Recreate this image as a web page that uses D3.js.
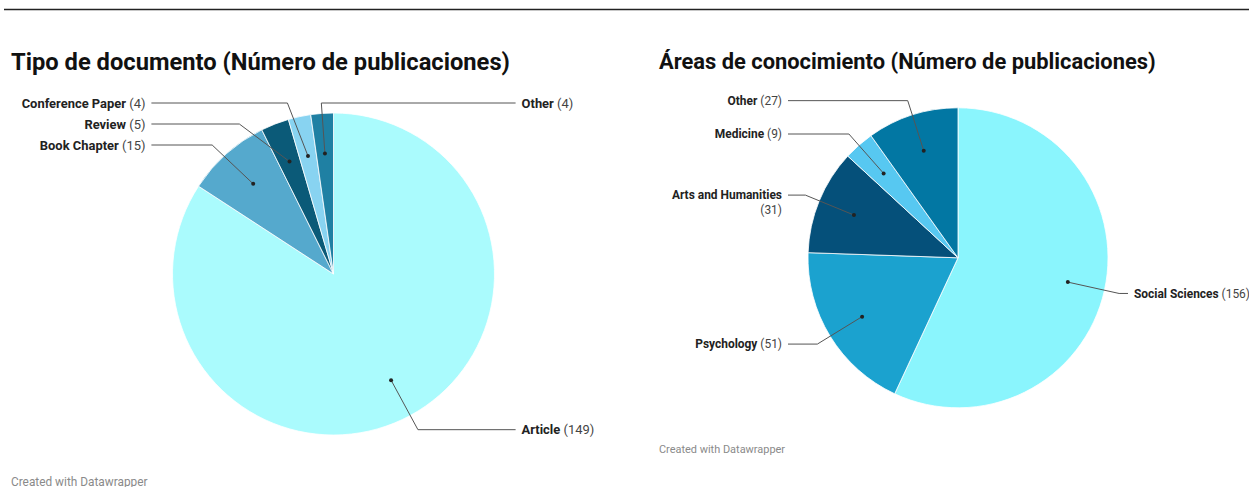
<!DOCTYPE html>
<html>
<head>
<meta charset="utf-8">
<script src="https://cdn.jsdelivr.net/npm/d3@7"></script>
<style>
  html, body { margin: 0; padding: 0; background: #fff; }
  svg { display: block; font-family: Roboto, "Noto Sans", sans-serif; }
</style>
</head>
<body>
<svg id="chart" width="1249" height="487"></svg>
<script>
// ---- data ----
const leftTitle = "Tipo de documento (Número de publicaciones)";
const leftCategories = ["Article", "Book Chapter", "Review", "Conference Paper", "Other"];
const leftValues = [149, 15, 5, 4, 4];
const leftColors = ["#aafbfd", "#55a9cd", "#0b5a78", "#88d3f1", "#1f80a3"];

const rightTitle = "Áreas de conocimiento (Número de publicaciones)";
const rightCategories = ["Social Sciences", "Psychology", "Arts and Humanities", "Medicine", "Other"];
const rightValues = [156, 51, 31, 9, 27];
const rightColors = ["#8af5fd", "#1ba2cf", "#05507a", "#57c8f1", "#0277a3"];

const footerText = "Created with Datawrapper";

// ---- layout ----
const svg = d3.select("#chart");
const W = 1249;

svg.append("line")
  .attr("x1", 4).attr("x2", W).attr("y1", 9.5).attr("y2", 9.5)
  .attr("stroke", "#222").attr("stroke-width", 1.5);

const charts = [
  { title: leftTitle, cats: leftCategories, vals: leftValues, colors: leftColors,
    x0: 11, x1: 624, cx: 333.5, cy: 274, r: 161, footerY: 485.5, k: 1.078, titleY: 70 },
  { title: rightTitle, cats: rightCategories, vals: rightValues, colors: rightColors,
    x0: 659, x1: 1249, cx: 958, cy: 257.8, r: 150, footerY: 453, k: 0.995, titleY: 69 }
];

charts.forEach(c => {
  const g = svg.append("g");
  g.append("text")
    .attr("x", c.x0).attr("y", c.titleY)
    .attr("font-size", 22 * c.k).attr("font-weight", 700).attr("fill", "#111")
    .text(c.title);

  g.append("text")
    .attr("x", c.x0).attr("y", c.footerY)
    .attr("font-size", 11 * c.k).attr("fill", "#8a8a8a")
    .text(footerText);

  const data = c.cats.map((name, i) => ({ name, value: c.vals[i], color: c.colors[i] }));
  const pie = d3.pie().sort(null).value(d => d.value);
  const arcs = pie(data);
  const arc = d3.arc().innerRadius(0).outerRadius(c.r);
  const dotArc = d3.arc().innerRadius(c.r * 0.75).outerRadius(c.r * 0.75);
  const R = c.r * 1.1;

  const pg = g.append("g").attr("transform", `translate(${c.cx},${c.cy})`);
  pg.selectAll("path").data(arcs).join("path")
    .attr("d", arc)
    .attr("fill", d => d.data.color)
    .attr("stroke", "#fff").attr("stroke-width", 0.8);

  // label placement
  const labels = arcs.map(a => {
    const mid = (a.startAngle + a.endAngle) / 2;
    let side = mid < Math.PI ? 1 : -1;
    // slices right at the top send their label to the right
    if (Math.abs(Math.sin(mid)) < 0.1 && Math.cos(mid) > 0) side = 1;
    let y = -R * Math.cos(mid);
    const minY = -c.r - 10, maxY = c.r + 10;
    y = Math.max(minY, Math.min(maxY, y));
    const [dx, dy] = dotArc.centroid(a);
    return { a, mid, side, y, dot: [dx, dy] };
  });
  [1, -1].forEach(s => {
    const grp = labels.filter(l => l.side === s).sort((p, q) => p.y - q.y);
    for (let i = 1; i < grp.length; i++) {
      if (grp[i].y < grp[i - 1].y + 21) grp[i].y = grp[i - 1].y + 21;
    }
  });

  labels.forEach(l => {
    const lx = l.side * (R + 11);
    let ex;
    const h = Math.sqrt(Math.max(0, R * R - l.y * l.y));
    const circX = l.side * h;
    if ((l.side > 0 && l.dot[0] < 0) || (l.side < 0 && l.dot[0] > 0)) {
      ex = l.dot[0] * (l.y / l.dot[1]);
    } else {
      ex = circX;
    }
    const lineEnd = lx - l.side * 6;
    pg.append("path")
      .attr("d", d3.line()([l.dot, [ex, l.y], [lineEnd, l.y]]))
      .attr("fill", "none").attr("stroke", "#555").attr("stroke-width", 1);
    pg.append("circle")
      .attr("cx", l.dot[0]).attr("cy", l.dot[1]).attr("r", 2)
      .attr("fill", "#222");

    const fs = 12 * c.k;
    const t = pg.append("text")
      .attr("x", lx).attr("y", l.y).attr("dy", "0.35em")
      .attr("font-size", fs)
      .attr("text-anchor", l.side > 0 ? "start" : "end");
    t.append("tspan").attr("font-weight", 700).attr("fill", "#222").text(l.a.data.name);
    const vt = t.append("tspan").attr("fill", "#444").text(" (" + l.a.data.value + ")");
    const width = t.node().getComputedTextLength();
    const absX = c.cx + lx;
    const maxW = l.side > 0 ? (c.x1 - absX + 4) : (absX - c.x0);
    if (width > maxW) {
      vt.remove();
      pg.append("text")
        .attr("x", lx).attr("y", l.y + 15).attr("dy", "0.35em")
        .attr("font-size", fs).attr("fill", "#444")
        .attr("text-anchor", l.side > 0 ? "start" : "end")
        .text("(" + l.a.data.value + ")");
    }
  });
});
</script>
</body>
</html>
